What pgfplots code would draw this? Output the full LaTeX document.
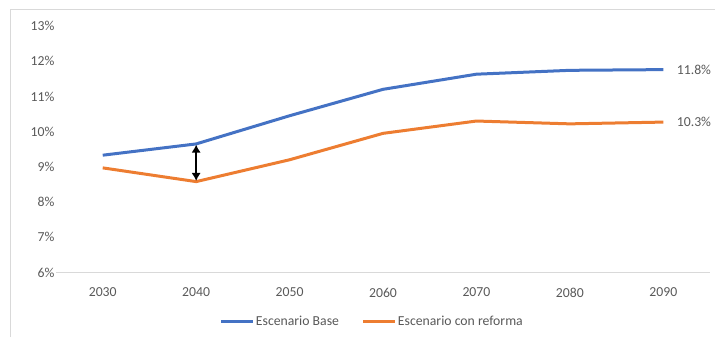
\documentclass[border=0pt]{standalone}
\usepackage{pgfplots}
\pgfplotsset{compat=1.18}
\usepackage{fontspec}
\setmainfont{Carlito}
\usetikzlibrary{arrows.meta}
\definecolor{cblue}{HTML}{4472C4}
\definecolor{corange}{HTML}{ED7D31}
\definecolor{ctext}{HTML}{595959}
\definecolor{caxis}{HTML}{D9D9D9}
\newcommand{\lblfont}{\fontsize{10.3}{12}\selectfont}
\begin{document}
\begin{tikzpicture}
\useasboundingbox (0,0) rectangle (536.25pt,252.75pt);
\draw[caxis, line width=0.75pt] (7.5pt,0) -- (7.5pt,246pt) -- (536.25pt,246pt);
\begin{axis}[
  at={(42pt,48.4pt)}, anchor=south west,
  scale only axis, width=490.5pt, height=184.9pt,
  xmin=2025, xmax=2095, ymin=6, ymax=13,
  xtick={2030,2040,...,2090},
  ytick={6,7,...,13},
  /pgf/number format/1000 sep={},
  /pgf/number format/assume math mode=true,
  axis y line=none,
  axis x line*=bottom,
  x axis line style={caxis, line width=0.75pt, -},
  major tick length=0pt,
  ticklabel style={font=\lblfont, text=ctext},
  xticklabel style={yshift=-8pt},
  legend style={at={(0.483,0)}, anchor=center, yshift=-37pt, draw=none,
    font=\lblfont, text=ctext, legend columns=2,
    /tikz/every even column/.append style={column sep=16pt},
    nodes={inner xsep=1pt}},
  legend image code/.code={\draw[#1, line width=2.25pt] (0pt,0pt) -- (24pt,0pt);},
  clip=false,
]
\addplot[cblue, line width=2.25pt] coordinates {
 (2030,9.33) (2040,9.65) (2050,10.45) (2060,11.20) (2070,11.63) (2080,11.74) (2090,11.76)};
\addlegendentry{Escenario Base}
\addplot[corange, line width=2.25pt] coordinates {
 (2030,8.97) (2040,8.58) (2050,9.20) (2060,9.95) (2070,10.30) (2080,10.22) (2090,10.27)};
\addlegendentry{Escenario con reforma}
\foreach \v in {6,7,...,13} {
  \edef\tmp{\noexpand\node[anchor=east, text=ctext, font=\noexpand\lblfont, inner sep=0pt] at (axis cs:2025,\v) [xshift=-1pt] {\v\%};}
  \tmp
}
\draw[{Latex[length=6pt,width=7pt]}-{Latex[length=6pt,width=7pt]}, line width=1.1pt, black] (axis cs:2040,9.63) -- (axis cs:2040,8.60);
\node[anchor=west, text=ctext, font=\lblfont, inner sep=0pt] at (axis cs:2090,11.76) [xshift=10pt] {11.8\%};
\node[anchor=west, text=ctext, font=\lblfont, inner sep=0pt] at (axis cs:2090,10.27) [xshift=10pt] {10.3\%};
\end{axis}
\end{tikzpicture}
\end{document}
